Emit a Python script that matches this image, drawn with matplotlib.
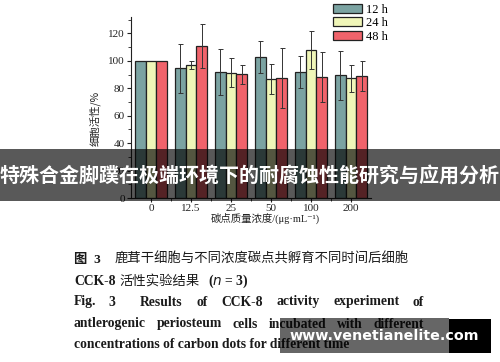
import numpy as np
import matplotlib
matplotlib.use("Agg")
import matplotlib.pyplot as plt
from matplotlib.patches import Rectangle, Patch

# data
concentrations = ["0", "12.5", "25", "50", "100", "200"]
series = ["12 h", "24 h", "48 h"]
viab_12h = [100, 94.6, 92.0, 102.9, 91.7, 89.5]
viab_24h = [100, 97.1, 91.5, 86.6, 108.0, 87.3]
viab_48h = [100, 110.7, 90.2, 87.8, 88.3, 89.0]
err_12h = [np.nan, 17.7, 16.7, 11.5, 11.6, 17.9]
err_24h = [np.nan, 2.7, 10.5, 11.0, 13.9, 10.0]
err_48h = [np.nan, 16.0, 7.0, 21.8, 18.3, 11.2]
colors = ["#7ba3a2", "#f0f6b8", "#f0636b"]

W, H = 500, 362
SERIF = ["Liberation Serif", "Noto Sans CJK SC", "DejaVu Sans"]
CJK = ["Noto Sans CJK SC", "DejaVu Sans"]


def fx(x):
    return x / W


def fy(y):
    return 1 - y / H


fig = plt.figure(figsize=(5, 3.62), dpi=100)
ax = fig.add_axes([fx(131), fy(198), fx(371) - fx(131), fy(17) - fy(198)])

x = np.arange(len(concentrations))
bw = 0.267
for i, (vals, errs) in enumerate(zip([viab_12h, viab_24h, viab_48h],
                                     [err_12h, err_24h, err_48h])):
    ax.bar(x + (i - 1) * bw, vals, bw, color=colors[i], edgecolor="#222222",
           linewidth=0.9, yerr=errs, zorder=2,
           error_kw=dict(ecolor="#333333", elinewidth=0.7, capsize=1.8,
                         capthick=0.7))

ax.set_xlim(-0.5, 5.5)
ax.set_ylim(0, 132)
ax.set_yticks(np.arange(0, 121, 20))
ax.set_yticks(np.arange(10, 131, 20), minor=True)
ax.set_xticks(x)
ax.set_xticks(x[:-1] + 0.5, minor=True)
ax.set_xticklabels(concentrations)
for lab in ax.get_xticklabels() + ax.get_yticklabels():
    lab.set_family(SERIF)
    lab.set_fontsize(8)
ax.tick_params(which="major", direction="out", length=3, width=0.8,
               pad=1.5, colors="#222222")
ax.tick_params(which="minor", direction="out", length=2, width=0.6,
               colors="#222222")
for s in ["top", "right"]:
    ax.spines[s].set_visible(False)
for s in ["left", "bottom"]:
    ax.spines[s].set_linewidth(0.8)
    ax.spines[s].set_color("#222222")

fig.text(fx(95), fy(118), "细胞活性/%", rotation=90, ha="center",
         va="center", family=CJK, fontsize=7.5, color="#222222")
fig.text(fx(265), fy(218), "碳点质量浓度/(μg·mL⁻¹)", ha="center",
         va="center", family=SERIF, fontsize=7.5, color="#222222")

handles = [Patch(facecolor=c, edgecolor="#222222", linewidth=0.9)
           for c in colors]
fig.legend(handles, series, loc="upper left",
           bbox_to_anchor=(fx(333), fy(4)), frameon=False,
           prop=dict(family=SERIF, size=9), handlelength=2.3,
           handleheight=0.75, labelspacing=0.1, handletextpad=0.3,
           borderpad=0, borderaxespad=0)

# banner over the chart
fig.patches.append(Rectangle((0, fy(201)), 1, fy(149) - fy(201),
                             transform=fig.transFigure, facecolor="black",
                             alpha=0.65, zorder=5, edgecolor="none"))
fig.text(0.5, fy(175), "特殊合金脚蹼在极端环境下的耐腐蚀性能研究与应用分析",
         ha="center", va="center", family=CJK, fontweight="bold",
         fontsize=14.4, color="white", zorder=6)

# caption (all on baselines)
cap_col = "#1a1a1a"


def cap(xp, yb, s, family=SERIF, bold=True, size=9.8):
    return fig.text(fx(xp), fy(yb), s, ha="left", va="baseline",
                    family=family, fontsize=size,
                    fontweight="bold" if bold else "normal", color=cap_col)


cap(74, 263, "图  3", size=9.6)
cap(115, 263, "鹿茸干细胞与不同浓度碳点共孵育不同时间后细胞", family=CJK,
    bold=False, size=9.6)
cap(74, 285, "CCK-8")
cap(119, 285, "活性实验结果", family=CJK, bold=False, size=9.6)
cap(208, 285, r"($\mathbf{\it{n}}$ = 3)")

renderer = fig.canvas.get_renderer()


def justify(words, yb, x0=74, x1=424):
    texts = [cap(0, yb, w) for w in words]
    widths = [t.get_window_extent(renderer).width for t in texts]
    gap = (x1 - x0 - sum(widths)) / (len(words) - 1)
    pos = x0
    for t, w in zip(texts, widths):
        t.set_x(fx(pos))
        pos += w + gap


cap(74, 305.5, "Fig.")
cap(108, 305.5, "3")
justify(["Results", "of", "CCK-8", "activity", "experiment", "of"], 305.5,
        x0=140)
justify(["antlerogenic", "periosteum", "cells", "incubated", "with",
         "different"], 327.5)
cap(74, 348.5, "concentrations of carbon dots for different time")

# watermark
fig.patches.append(Rectangle((fx(280), fy(353)), fx(449) - fx(280),
                             fy(318) - fy(353), transform=fig.transFigure,
                             facecolor="black", alpha=0.6, zorder=5,
                             edgecolor="none"))
fig.patches.append(Rectangle((fx(449), fy(353)), fx(491) - fx(449),
                             fy(319) - fy(353), transform=fig.transFigure,
                             facecolor="black", zorder=5, edgecolor="none"))
fig.text(fx(384.5), fy(336), "www.venetianelite.com", ha="center",
         va="center", family="DejaVu Sans", fontweight="bold",
         fontsize=10.3, color="white", zorder=6)

fig.savefig("out.png", dpi=100)
